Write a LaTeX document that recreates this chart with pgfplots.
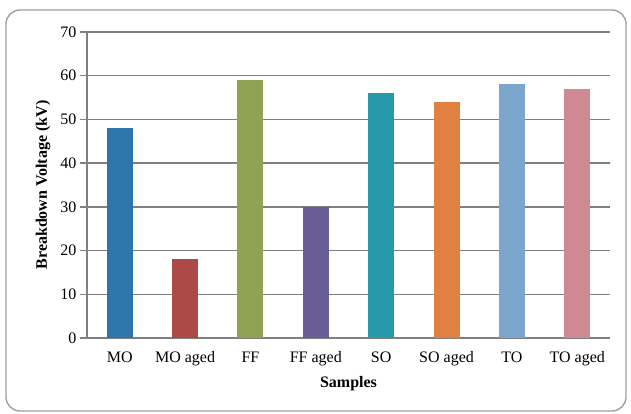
\documentclass[border=0pt]{standalone}
\usepackage{pgfplots}
\pgfplotsset{compat=1.18}
\usepackage{fontspec}
\setmainfont{Liberation Serif}
\definecolor{gridc}{RGB}{128,128,128}
\definecolor{framec}{RGB}{160,160,160}
\definecolor{cMO}{RGB}{46,117,172}
\definecolor{cMOa}{RGB}{172,74,72}
\definecolor{cFF}{RGB}{143,163,85}
\definecolor{cFFa}{RGB}{105,93,150}
\definecolor{cSO}{RGB}{38,153,171}
\definecolor{cSOa}{RGB}{224,129,66}
\definecolor{cTO}{RGB}{124,166,206}
\definecolor{cTOa}{RGB}{206,137,146}
\begin{document}
\begin{tikzpicture}[x=1pt,y=1pt]
\useasboundingbox (0,0) rectangle (631,414);
\draw[framec, line width=1.4pt, rounded corners=14pt] (6,3) rectangle (626,404);
\begin{axis}[
  at={(87pt,76pt)}, anchor=south west,
  scale only axis, width=523pt, height=306pt,
  ymin=0, ymax=70, ytick={0,10,...,70},
  xmin=-0.5, xmax=7.5, xtick={0,...,7},
  xticklabels={MO,MO aged,FF,FF aged,SO,SO aged,TO,TO aged},
  ymajorgrids, grid style={gridc, line width=1.5pt},
  axis x line*=bottom, axis y line*=left,
  axis line style={gridc, line width=1.5pt, -},
  x tick style={draw=none},
  y tick style={gridc, line width=1.5pt},
  major tick length=7pt, tick align=outside,
  ticklabel style={font=\fontsize{16}{19}\selectfont},
  xticklabel style={yshift=-3pt},
  /pgf/number format/assume math mode=true,
  ylabel={\textbf{Breakdown Voltage (kV)}},
  xlabel={\textbf{Samples}},
  label style={font=\fontsize{16}{19}\selectfont},
  y label style={at={(axis description cs:-0.084,0.5)}, anchor=center},
  x label style={at={(axis description cs:0.5,-0.150)}, anchor=center},
  ybar, bar width=26pt, bar shift=0pt,
  every axis plot/.append style={draw=none},
  clip=false,
]
\addplot[fill=cMO] coordinates {(0,48)};
\addplot[fill=cMOa] coordinates {(1,18)};
\addplot[fill=cFF] coordinates {(2,59)};
\addplot[fill=cFFa] coordinates {(3,30)};
\addplot[fill=cSO] coordinates {(4,56)};
\addplot[fill=cSOa] coordinates {(5,54)};
\addplot[fill=cTO] coordinates {(6,58)};
\addplot[fill=cTOa] coordinates {(7,57)};
\end{axis}
\end{tikzpicture}
\end{document}
